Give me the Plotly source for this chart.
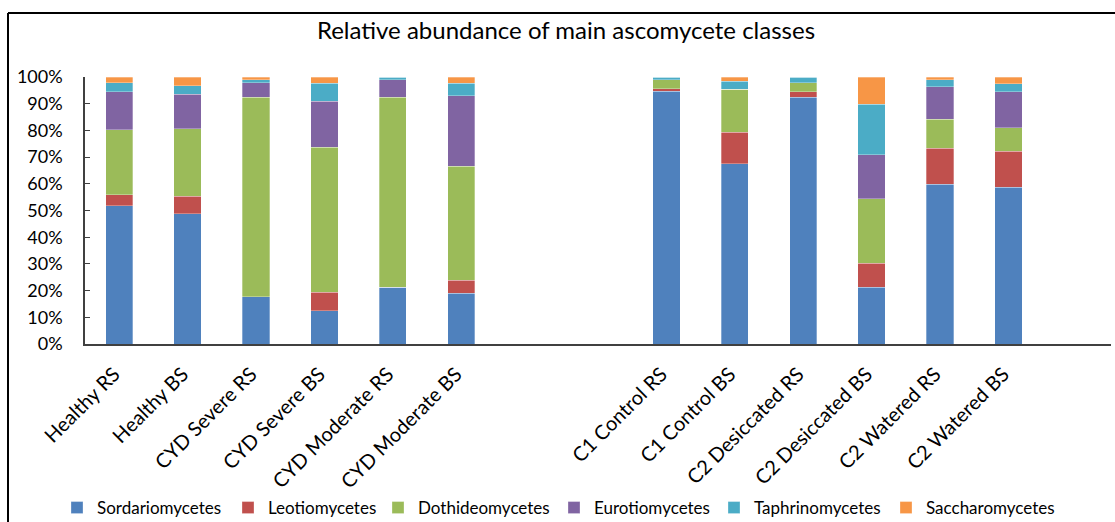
import plotly.graph_objects as go

# ---- data (percent of reads) ----
group_a = ["Healthy RS", "Healthy BS", "CYD Severe RS", "CYD Severe BS",
           "CYD Moderate RS", "CYD Moderate BS"]
group_b = ["C1 Control RS", "C1 Control BS", "C2 Desiccated RS",
           "C2 Desiccated BS", "C2 Watered RS", "C2 Watered BS"]

sordariomycetes = [51.7, 48.8, 17.7, 12.5, 21.2, 19.1, 94.6, 67.6, 92.4, 21.3, 59.9, 58.7]
leotiomycetes   = [4.2, 6.6, 0.0, 6.8, 0.0, 4.8, 1.0, 11.8, 2.1, 9.0, 13.4, 13.5]
dothideomycetes = [24.4, 25.3, 74.8, 54.3, 71.2, 42.7, 3.4, 16.0, 3.3, 24.1, 10.9, 8.8]
eurotiomycetes  = [14.1, 12.8, 5.3, 17.3, 6.6, 26.3, 0.0, 0.0, 0.0, 16.4, 12.2, 13.4]
taphrinomycetes = [3.4, 3.3, 1.1, 6.7, 1.0, 4.7, 1.0, 3.1, 2.2, 19.0, 2.5, 3.1]
saccharomycetes = [2.2, 3.2, 1.1, 2.4, 0.0, 2.4, 0.0, 1.5, 0.0, 10.2, 1.1, 2.5]

series_names = ["Sordariomycetes", "Leotiomycetes", "Dothideomycetes",
                "Eurotiomycetes", "Taphrinomycetes", "Saccharomycetes"]
series_values = [sordariomycetes, leotiomycetes, dothideomycetes,
                 eurotiomycetes, taphrinomycetes, saccharomycetes]
colors = ["#4F81BD", "#C0504D", "#9BBB59", "#8064A2", "#4BACC6", "#F79646"]
legend_widths = [126, 105, 131, 115, 127, 128]   # legend entry spacing (px)

y_ticks = list(range(0, 101, 10))
y_tick_labels = [f"{v}%" for v in y_ticks]

# empty category slots separating the two experiments (as in the original)
gap_mid = [" ", "  "]
gap_end = ["   "]
categories = group_a + gap_mid + group_b + gap_end


def pad(vals):
    return vals[:6] + [None] * len(gap_mid) + vals[6:] + [None] * len(gap_end)


FONT = "Lato, Calibri, 'Open Sans', sans-serif"
W, H = 1115, 522
ML, MR, MT, MB = 85, 4, 77, 178

fig = go.Figure()
for name, vals, col, lw in zip(series_names, series_values, colors, legend_widths):
    fig.add_trace(go.Bar(
        name=name, x=categories, y=pad(vals), legendwidth=lw,
        marker=dict(color=col, line=dict(color="rgba(255,255,255,0.5)", width=0.6)),
    ))

pw = W - ML - MR
ph = H - MT - MB
def px_x(p):
    return (p - ML) / pw
def px_y(p):
    return (H - MB - p) / ph

fig.update_layout(
    width=W, height=H,
    margin=dict(l=ML, r=MR, t=MT, b=MB, autoexpand=False),
    barmode="stack", bargap=0.6,
    plot_bgcolor="white", paper_bgcolor="white",
    font=dict(family=FONT, size=18, color="#000000"),
    title=dict(text="Relative abundance of main ascomycete classes",
               x=566 / W, xref="container", xanchor="center",
               y=1 - 31 / H, yanchor="middle", font=dict(size=24, family=FONT)),
    xaxis=dict(type="category", categoryorder="array", categoryarray=categories,
               range=[-0.5, len(categories) - 0.5], automargin=False,
               showline=True, linecolor="#404040", linewidth=1.5,
               ticks="", tickangle=-45, showgrid=False, zeroline=False,
               tickfont=dict(size=20), ticklabelstandoff=9, ticklabelshift=-5),
    yaxis=dict(range=[0, 100], tickvals=y_ticks, ticktext=y_tick_labels,
               automargin=False,
               showline=True, linecolor="#404040", linewidth=1.5,
               ticks="inside", ticklen=5, tickcolor="#404040", tickwidth=1.2,
               showgrid=False, zeroline=False, tickfont=dict(size=18),
               ticklabelstandoff=17),
    legend=dict(orientation="h", xref="container", yref="container",
                x=57 / W, xanchor="left", y=1 - 508 / H, yanchor="middle",
                font=dict(size=17), traceorder="normal", itemwidth=30),
    shapes=[
        dict(type="line", xref="paper", yref="paper",
             x0=px_x(8), x1=px_x(W + 5), y0=px_y(13), y1=px_y(13),
             line=dict(color="black", width=2)),
        dict(type="line", xref="paper", yref="paper",
             x0=px_x(8), x1=px_x(8), y0=px_y(13), y1=px_y(H + 5),
             line=dict(color="black", width=2)),
    ],
)

fig.write_html("out.html",
               config={"displayModeBar": False},
               post_script="document.body.style.margin='0';"
                           "document.body.style.overflow='hidden';")
